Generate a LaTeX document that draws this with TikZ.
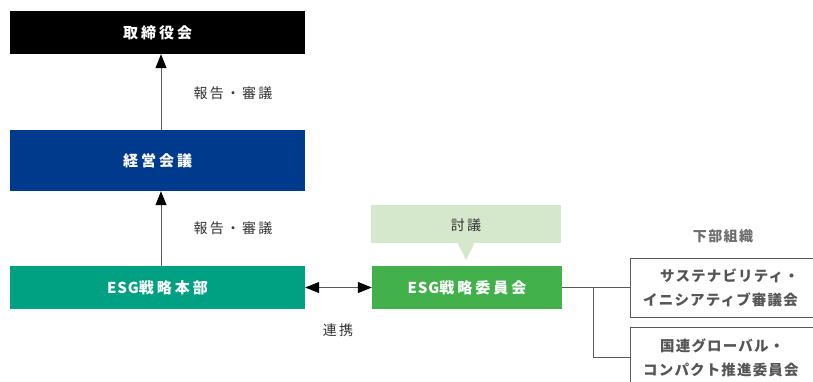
\documentclass[tikz,border=0pt]{standalone}
\usepackage{fontspec}
\setmainfont{Noto Sans CJK JP}
\usetikzlibrary{arrows.meta,positioning}

\definecolor{boardblue}{HTML}{003A8D}
\definecolor{esgteal}{HTML}{00A183}
\definecolor{esggreen}{HTML}{43B14B}
\definecolor{talkgreen}{HTML}{D5E8CB}
\definecolor{linegray}{HTML}{5A5A5A}
\definecolor{textgray}{HTML}{333333}
\definecolor{subgray}{HTML}{555555}

% ESG は字間を詰める
\newcommand{\esg}{{\addfontfeatures{LetterSpace=6}ESG}}

\tikzset{
  orgbox/.style={minimum width=295pt, minimum height=43pt, inner sep=0pt,
    text=white, font=\bfseries\addfontfeatures{LetterSpace=20}\fontsize{15}{15}\selectfont},
  subbox/.style={text width=200pt, minimum height=59pt,
    inner xsep=13pt, inner ysep=0pt, anchor=north west, text=subgray, align=left,
    font=\bfseries\addfontfeatures{LetterSpace=8}\fontsize{14.5}{24}\selectfont},
  note/.style={text=textgray, font=\addfontfeatures{LetterSpace=16}\fontsize{14}{14}\selectfont},
  conn/.style={draw=linegray, line width=1pt},
  tip/.style={-{Triangle[length=14pt,width=11pt,fill=black,color=black]}}
}

\begin{document}
\begin{tikzpicture}[x=1pt,y=-1pt]
  \useasboundingbox (0,0) rectangle (813,381);
  \clip (0,0) rectangle (813,381);
  \fill[white] (0,0) rectangle (813,381);

  \node[orgbox, fill=black] (board) at (157.5,32.5) {取締役会};
  \node[orgbox, fill=boardblue, minimum height=61pt] (mgmt) at (157.5,160.5) {経営会議};
  \node[orgbox, fill=esgteal] (hq) at (157.5,287.5) {\esg 戦略本部};
  \node[orgbox, fill=esggreen, minimum width=190pt] (cmte) at (467,287.5) {\esg 戦略委員会};

  % 討議 の吹き出し
  \fill[talkgreen] (371,205) rectangle (561,243);
  \fill[talkgreen] (457,242) -- (475,242) -- (466,260) -- cycle;
  \node[note] (talk) at (466,225) {討議};

  % 報告・審議
  \draw[conn, tip] (mgmt.north -| 161,0) -- (board.south -| 161,0);
  \draw[conn, tip] (hq.north -| 161,0) -- (mgmt.south -| 161,0);
  \node[note, anchor=west] (rep1) at (190,93) {報告・審議};
  \node[note, anchor=west] (rep2) at (190,228) {報告・審議};

  % 連携
  \draw[conn, {Triangle[length=14pt,width=11pt,fill=black,color=black]}-{Triangle[length=14pt,width=11pt,fill=black,color=black]}]
    (hq.east) -- (cmte.west);
  \node[note] (link) at (338,330) {連携};

  % 下部組織（右端は切れている）
  \node[note, text=subgray!85!white, font=\bfseries\addfontfeatures{LetterSpace=10}\fontsize{14}{14}\selectfont] (sub) at (723,236) {下部組織};
  \node[subbox] (sust) at (630,258)
    {\hspace*{17pt}サステナビリティ・\\イニシアティブ審議会};
  \node[subbox, minimum height=61pt] (ungc) at (630,327)
    {\hspace*{17pt}国連グローバル・\\コンパクト推進委員会};
  \draw[conn] (sust.north east) -- (sust.north west) -- (sust.south west) -- (sust.south east);
  \draw[conn] (ungc.north east) -- (ungc.north west) -- (ungc.south west);
  \coordinate (fork) at (593,288);
  \draw[conn] (cmte.east) -- (sust.west |- cmte.east);
  \draw[conn] (fork) |- (ungc.west |- 0,357);
\end{tikzpicture}
\end{document}
